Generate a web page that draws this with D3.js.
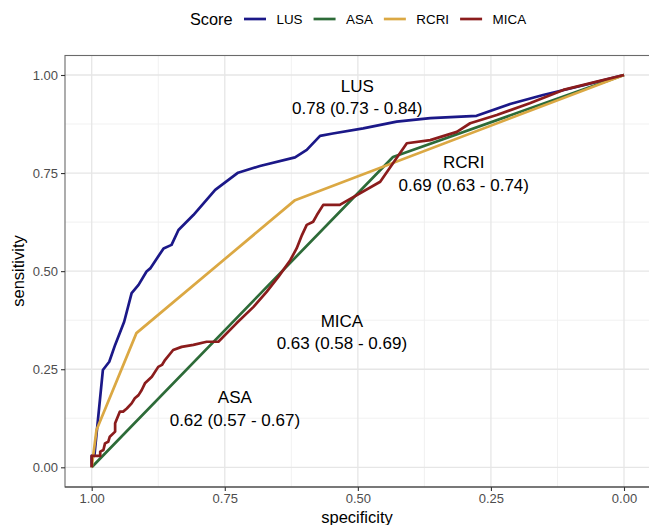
<!DOCTYPE html>
<html>
<head>
<meta charset="utf-8">
<script src="https://cdn.jsdelivr.net/npm/d3@7"></script>
<style>
  html, body { margin: 0; padding: 0; background: #ffffff; }
  svg { display: block; font-family: "Liberation Sans", Arial, sans-serif; }
</style>
</head>
<body>
<svg id="chart" width="649" height="525"></svg>
<script>
// ---- data: [specificity, sensitivity] ----
const seriesNames = ["LUS", "ASA", "RCRI", "MICA"];
const seriesColors = ["#1b1888", "#2d6b38", "#dba843", "#8b1c1c"];

const lusRoc = [
  [1.000,0.000],[1.000,0.029],[0.995,0.029],[0.979,0.248],[0.967,0.269],[0.956,0.312],
  [0.939,0.371],[0.925,0.444],[0.912,0.465],[0.897,0.499],[0.890,0.507],[0.865,0.558],
  [0.850,0.567],[0.837,0.605],[0.809,0.643],[0.768,0.707],[0.725,0.751],[0.684,0.768],
  [0.618,0.790],[0.596,0.809],[0.571,0.845],[0.547,0.851],[0.490,0.864],[0.427,0.881],
  [0.364,0.890],[0.277,0.896],[0.214,0.926],[0.152,0.949],[0.076,0.974],[0.000,1.000]
];
const asaRoc = [[1.000,0.000],[0.434,0.791],[0.000,1.000]];
const rcriRoc = [[1.000,0.000],[0.991,0.095],[0.916,0.342],[0.618,0.681],[0.000,1.000]];
const micaRoc = [
  [1.000,0.000],[1.000,0.029],[0.984,0.029],[0.984,0.040],[0.978,0.044],[0.975,0.061],
  [0.969,0.065],[0.966,0.078],[0.956,0.091],[0.956,0.112],[0.947,0.142],[0.941,0.142],
  [0.934,0.150],[0.925,0.163],[0.919,0.176],[0.912,0.184],[0.906,0.197],[0.900,0.214],
  [0.893,0.223],[0.887,0.231],[0.875,0.256],[0.868,0.261],[0.862,0.274],[0.847,0.299],
  [0.831,0.307],[0.809,0.312],[0.784,0.320],[0.762,0.320],[0.728,0.367],[0.696,0.409],
  [0.671,0.448],[0.649,0.486],[0.627,0.528],[0.615,0.558],[0.605,0.592],[0.596,0.618],
  [0.584,0.626],[0.577,0.643],[0.565,0.669],[0.534,0.669],[0.458,0.728],[0.408,0.826],
  [0.364,0.834],[0.314,0.855],[0.289,0.877],[0.239,0.898],[0.177,0.928],[0.114,0.962],
  [0.051,0.983],[0.000,1.000]
];
const rocData = [lusRoc, asaRoc, rcriRoc, micaRoc];

const aucLabels = ["0.78 (0.73 - 0.84)", "0.62 (0.57 - 0.67)", "0.69 (0.63 - 0.74)", "0.63 (0.58 - 0.69)"];
// annotation anchor in data coordinates [specificity, sensitivity]
const aucAnchors = [[0.501, 0.957], [0.731, 0.163], [0.301, 0.762], [0.530, 0.358]];

const xTicks = [1.00, 0.75, 0.50, 0.25, 0.00];
const yTicks = [0.00, 0.25, 0.50, 0.75, 1.00];
const xMinor = [0.875, 0.625, 0.375, 0.125];
const yMinor = [0.125, 0.375, 0.625, 0.875];

// ---- layout ----
const svg = d3.select("#chart");
const x = d3.scaleLinear().domain([1, 0]).range([91.7, 624]);
const y = d3.scaleLinear().domain([0, 1]).range([467.3, 75]);
const panel = { left: 65, top: 55.5, right: 660, bottom: 487 };

svg.append("rect").attr("width", 649).attr("height", 525).attr("fill", "#ffffff");

const grid = svg.append("g");
// minor grid
grid.selectAll(".vmin").data(xMinor).join("line")
  .attr("x1", d => x(d)).attr("x2", d => x(d))
  .attr("y1", panel.top).attr("y2", panel.bottom)
  .attr("stroke", "#efefef").attr("stroke-width", 0.9);
grid.selectAll(".hmin").data(yMinor).join("line")
  .attr("y1", d => y(d)).attr("y2", d => y(d))
  .attr("x1", panel.left).attr("x2", panel.right)
  .attr("stroke", "#efefef").attr("stroke-width", 0.9);
// major grid
grid.selectAll(".vmaj").data(xTicks).join("line")
  .attr("x1", d => x(d)).attr("x2", d => x(d))
  .attr("y1", panel.top).attr("y2", panel.bottom)
  .attr("stroke", "#e6e6e6").attr("stroke-width", 1.3);
grid.selectAll(".hmaj").data(yTicks).join("line")
  .attr("y1", d => y(d)).attr("y2", d => y(d))
  .attr("x1", panel.left).attr("x2", panel.right)
  .attr("stroke", "#e6e6e6").attr("stroke-width", 1.3);

// panel border
svg.append("rect")
  .attr("x", panel.left).attr("y", panel.top)
  .attr("width", panel.right - panel.left).attr("height", panel.bottom - panel.top)
  .attr("fill", "none").attr("stroke", "#6a6a6a").attr("stroke-width", 1.1);

// lines
const line = d3.line().x(d => x(d[0])).y(d => y(d[1]));
svg.append("g").selectAll("path").data(rocData).join("path")
  .attr("d", d => line(d))
  .attr("fill", "none")
  .attr("stroke", (d, i) => seriesColors[i])
  .attr("stroke-width", 2.7)
  .attr("stroke-linejoin", "round")
  .attr("stroke-linecap", "butt");

// axes
const xAxis = svg.append("g").attr("transform", `translate(0,${panel.bottom})`)
  .call(d3.axisBottom(x).tickValues(xTicks).tickFormat(d3.format(".2f")).tickSize(4).tickPadding(3));
const yAxis = svg.append("g").attr("transform", `translate(${panel.left},0)`)
  .call(d3.axisLeft(y).tickValues(yTicks).tickFormat(d3.format(".2f")).tickSize(4).tickPadding(3));
[xAxis, yAxis].forEach(a => {
  a.select(".domain").remove();
  a.selectAll(".tick line").attr("stroke", "#333333").attr("stroke-width", 1.1);
  a.selectAll(".tick text").attr("fill", "#4d4d4d").style("font-size", "13px")
    .style("font-family", "'Liberation Sans', Arial, sans-serif");
});
// darker bottom axis line
svg.append("line").attr("x1", panel.left).attr("x2", panel.right)
  .attr("y1", panel.bottom).attr("y2", panel.bottom)
  .attr("stroke", "#444444").attr("stroke-width", 1.2);

// axis titles
svg.append("text").attr("x", 357).attr("y", 523).attr("text-anchor", "middle")
  .style("font-size", "16.5px").attr("fill", "#000").text("specificity");
svg.append("text").attr("transform", "translate(23.5,271) rotate(-90)").attr("text-anchor", "middle")
  .style("font-size", "16.5px").attr("fill", "#000").text("sensitivity");

// annotations
const ann = svg.append("g");
rocData.forEach((d, i) => {
  const ax = x(aucAnchors[i][0]);
  const ay = y(aucAnchors[i][1]);
  ann.append("text").attr("x", ax).attr("y", ay).attr("text-anchor", "middle")
    .style("font-size", "17px").attr("fill", "#000").text(seriesNames[i]);
  ann.append("text").attr("x", ax).attr("y", ay + 22.5).attr("text-anchor", "middle")
    .style("font-size", "17px").attr("fill", "#000").text(aucLabels[i]);
});

// legend
const leg = svg.append("g");
leg.append("text").attr("x", 190).attr("y", 24.8).style("font-size", "16.3px").attr("fill", "#000").text("Score");
let cx = 244;
seriesNames.forEach((name, i) => {
  leg.append("line").attr("x1", cx).attr("x2", cx + 22).attr("y1", 19).attr("y2", 19)
    .attr("stroke", seriesColors[i]).attr("stroke-width", 2.7);
  const t = leg.append("text").attr("x", cx + 32.5).attr("y", 23.8)
    .style("font-size", "13.4px").attr("fill", "#000").text(name);
  cx = cx + 32.5 + t.node().getComputedTextLength() + 11;
});
</script>
</body>
</html>
